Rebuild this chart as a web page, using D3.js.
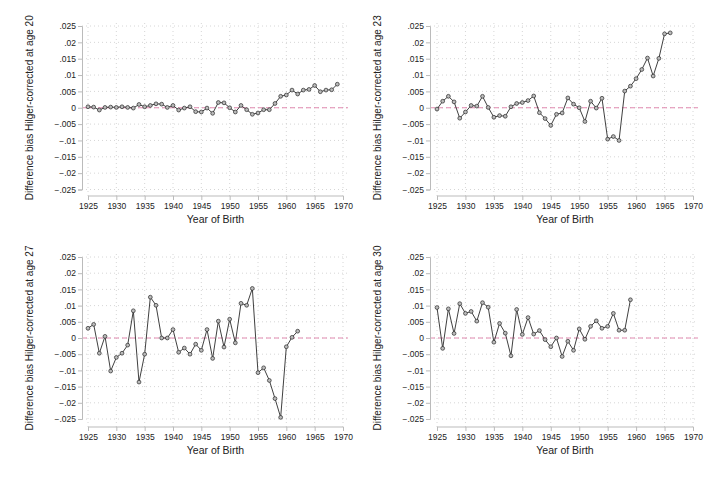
<!DOCTYPE html>
<html>
<head>
<meta charset="utf-8">
<script src="https://cdn.jsdelivr.net/npm/d3@7"></script>
<style>
  body { margin: 0; background: #fff; }
  text { font-family: "Liberation Sans", Arial, sans-serif; fill: #222; }
</style>
</head>
<body>
<div id="chart"></div>
<script>
// years are consecutive from 1925
const startYear = 1925
const age20 = [0.0003,0.0002,-0.0007,0.0001,0.0002,0.0001,0.0003,0.0001,-0.0001,0.001,
  0.0003,0.0007,0.0012,0.0011,0.0001,0.0007,-0.0007,-0.0001,0.0003,-0.0012,
  -0.0013,-0.0001,-0.0017,0.0016,0.0015,0,-0.0013,0.0007,-0.0006,-0.002,
  -0.0016,-0.0006,-0.0006,0.0013,0.0035,0.0039,0.0054,0.0042,0.0054,0.0056,
  0.0068,0.0049,0.0054,0.0055,0.0072]
const age23 = [-0.0004,0.002,0.0035,0.0018,-0.0032,-0.0013,0.0007,0.0005,0.0035,0.0001,
  -0.0029,-0.0024,-0.0026,0.0003,0.0013,0.0016,0.0022,0.0036,-0.0015,-0.0033,
  -0.0054,-0.002,-0.0016,0.003,0.0011,0,-0.0042,0.002,-0.0001,0.0029,
  -0.0096,-0.0088,-0.01,0.0051,0.0066,0.0089,0.0117,0.0152,0.0097,0.0151,
  0.0226,0.0229]
const age27 = [0.003,0.0042,-0.0047,0.0005,-0.0102,-0.006,-0.0047,-0.0022,0.0084,-0.0136,
  -0.005,0.0126,0.0101,0,0,0.0026,-0.0044,-0.0031,-0.005,-0.0019,
  -0.0038,0.0026,-0.0063,0.0052,-0.0028,0.0058,-0.0015,0.0107,0.0101,0.0153,
  -0.0107,-0.0092,-0.0131,-0.0187,-0.0245,-0.0027,0.0002,0.0021]
const age30 = [0.0094,-0.0032,0.009,0.0014,0.0106,0.0076,0.0082,0.0052,0.0109,0.0095,
  -0.0013,0.0045,0.0015,-0.0055,0.0088,0.0011,0.0063,0.0012,0.0023,-0.0005,
  -0.0027,0,-0.0057,-0.001,-0.0038,0.0028,-0.0004,0.0036,0.0053,0.003,
  0.0036,0.0076,0.0024,0.0024,0.0118]
const xTicks = [1925,1930,1935,1940,1945,1950,1955,1960,1965,1970]
const yTicks = [0.025,0.02,0.015,0.01,0.005,0,-0.005,-0.01,-0.015,-0.02,-0.025]
const ages = [20,23,27,30]
const series = [age20,age23,age27,age30]

const svg = d3.select("#chart").append("svg").attr("width",720).attr("height",480)

// panel boxes: x0/x1 = 1925/1970, yT/yB = .025/-.025, ax = y axis x, xa = x axis y
const panels = [
  {x0:88, x1:343, ax:82, yT:26, yB:189.5, xa:196},
  {x0:437, x1:693, ax:430, yT:26, yB:189.5, xa:196},
  {x0:88, x1:343, ax:82, yT:257, yB:419, xa:427},
  {x0:437, x1:693, ax:430, yT:257, yB:419, xa:427}
]

function fmt(v){
  if(v==0) return "0"
  let s = d3.format("")(+v.toFixed(3))
  return s.replace("0.",".")
}

panels.forEach(function(p,i){
  const data = series[i].map((v,k)=>({year:startYear+k, val:v}))
  const x = d3.scaleLinear().domain([1925,1970]).range([p.x0,p.x1])
  const y = d3.scaleLinear().domain([-0.025,0.025]).range([p.yB,p.yT])
  const g = svg.append("g")

  // grid
  g.selectAll("line.hg").data(yTicks).enter().append("line")
    .attr("x1",p.ax).attr("x2",p.x1+4)
    .attr("y1",d=>y(d)).attr("y2",d=>y(d))
    .attr("stroke","#ccc").attr("stroke-width",0.8).attr("stroke-dasharray","1,3")
  g.selectAll("line.vg").data(xTicks).enter().append("line")
    .attr("x1",d=>x(d)).attr("x2",d=>x(d))
    .attr("y1",p.yT-3).attr("y2",p.xa)
    .attr("stroke","#ccc").attr("stroke-width",0.8).attr("stroke-dasharray","1,3")

  // zero line
  g.append("line").attr("x1",p.ax).attr("x2",p.x1+5)
    .attr("y1",y(0)).attr("y2",y(0))
    .attr("stroke","#e28ab0").attr("stroke-width",1).attr("stroke-dasharray","5,3")

  // y axis
  const yAxis = d3.axisLeft(y).tickValues(yTicks).tickFormat(fmt).tickSize(4).tickPadding(2)
  const ya = g.append("g").attr("transform",`translate(${p.ax},0)`).call(yAxis)
  // x axis
  const xAxis = d3.axisBottom(x).tickValues(xTicks).tickFormat(d3.format("d")).tickSize(4).tickPadding(3)
  const xg = g.append("g").attr("transform",`translate(0,${p.xa})`).call(xAxis)
  xg.select(".domain").attr("d",`M${p.x0},0H${p.x1}`)
  ;[ya,xg].forEach(a=>{
    a.select(".domain").attr("stroke","#bbb")
    a.selectAll(".tick line").attr("stroke","#bbb")
    a.selectAll(".tick text").style("font-family","'Liberation Sans', Arial, sans-serif")
      .style("font-size","8.5px").attr("fill","#222")
  })

  // titles
  g.append("text").attr("x",(p.x0+p.x1)/2).attr("y",p.xa+27)
    .attr("text-anchor","middle").style("font-size","10.5px").text("Year of Birth")
  g.append("text")
    .attr("transform",`translate(${p.ax-49},${(p.yT+p.yB)/2}) rotate(-90)`)
    .attr("text-anchor","middle").style("font-size","10px")
    .text("Difference bias Hilger-corrected at age "+ages[i])

  // line + markers
  const line = d3.line().x(d=>x(d.year)).y(d=>y(d.val))
  g.append("path").datum(data).attr("d",line)
    .attr("fill","none").attr("stroke","#2a2a2a").attr("stroke-width",0.9)
  g.selectAll("circle").data(data).enter().append("circle")
    .attr("cx",d=>x(d.year)).attr("cy",d=>y(d.val)).attr("r",1.9)
    .attr("fill","#bbb").attr("stroke","#2a2a2a").attr("stroke-width",0.7)
})
</script>
</body>
</html>
